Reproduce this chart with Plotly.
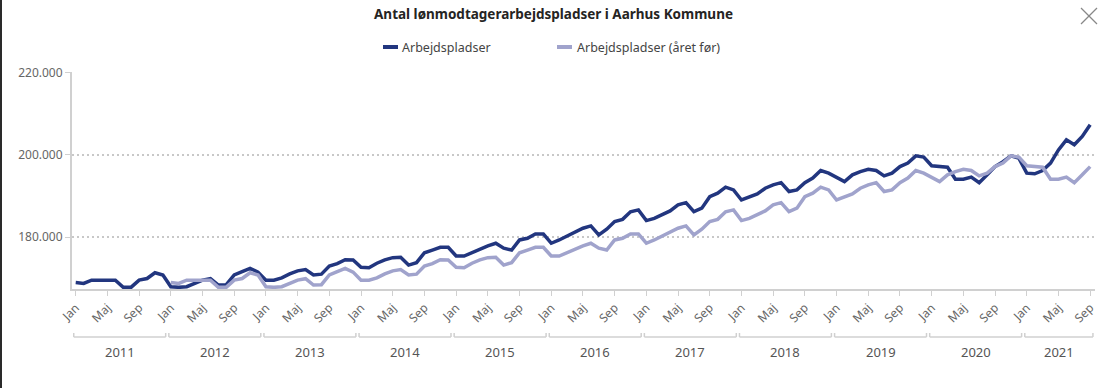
import plotly.graph_objects as go

# ---------------- data ----------------
years = [2011, 2012, 2013, 2014, 2015, 2016, 2017, 2018, 2019, 2020, 2021]
month_names = ["Jan", "Feb", "Mar", "Apr", "Maj", "Jun", "Jul", "Aug", "Sep", "Okt", "Nov", "Dec"]

arb_2011 = [169000, 168800, 169600, 169550, 169550, 169600, 167850, 167900, 169600, 170000, 171400, 170850]
arb_2012 = [168000, 167850, 168000, 168900, 169600, 169950, 168400, 168500, 170850, 171650, 172450, 171550]
arb_2013 = [169600, 169600, 170150, 171100, 171850, 172150, 170850, 171050, 173000, 173600, 174550, 174500]
arb_2014 = [172700, 172600, 173700, 174500, 175050, 175150, 173250, 173850, 176250, 176900, 177550, 177550]
arb_2015 = [175450, 175450, 176300, 177050, 177900, 178550, 177350, 176900, 179350, 179750, 180800, 180800]
arb_2016 = [178550, 179350, 180300, 181350, 182200, 182750, 180550, 181950, 183800, 184350, 186200, 186650]
arb_2017 = [184050, 184600, 185400, 186400, 187850, 188400, 186200, 187050, 189850, 190700, 192150, 191500]
arb_2018 = [189050, 189700, 190500, 191900, 192700, 193250, 191100, 191500, 193250, 194350, 196200, 195550]
arb_2019 = [194600, 193500, 195150, 195950, 196500, 196200, 194900, 195550, 197150, 198000, 199750, 199450]
arb_2020 = [197350, 197150, 197000, 194100, 194100, 194600, 193250, 195150, 197150, 198350, 199750, 199200]
arb_2021 = [195550, 195400, 196200, 198000, 201200, 203650, 202450, 204450, 207300]

# "Arbejdspladser (året før)" - as drawn (the previous year's level at each month)
prev_2011 = [None] * 12
prev_2012 = [169000, 168800, 169600, 169550, 169550, 169600, 167850, 167900, 169600, 170000, 171400, 170850]
prev_2013 = [168000, 167850, 168000, 168900, 169600, 169950, 168400, 168500, 170850, 171650, 172450, 171550]
prev_2014 = [169600, 169600, 170150, 171100, 171850, 172150, 170850, 171050, 173000, 173600, 174550, 174500]
prev_2015 = [172700, 172600, 173700, 174500, 175050, 175150, 173250, 173850, 176250, 176900, 177550, 177550]
prev_2016 = [175450, 175450, 176300, 177050, 177900, 178550, 177350, 176900, 179350, 179750, 180800, 180800]
prev_2017 = [178550, 179350, 180300, 181350, 182200, 182750, 180550, 181950, 183800, 184350, 186200, 186650]
prev_2018 = [184050, 184600, 185400, 186400, 187850, 188400, 186200, 187050, 189850, 190700, 192150, 191500]
prev_2019 = [189050, 189700, 190500, 191900, 192700, 193250, 191100, 191500, 193250, 194350, 196200, 195550]
prev_2020 = [194600, 193500, 195150, 195950, 196500, 196200, 194900, 195550, 197150, 198000, 199750, 199450]
prev_2021 = [197350, 197150, 197000, 194100, 194100, 194600, 193250, 195150, 197150]

arbejdspladser = (arb_2011 + arb_2012 + arb_2013 + arb_2014 + arb_2015 + arb_2016
                  + arb_2017 + arb_2018 + arb_2019 + arb_2020 + arb_2021)
aaret_foer = (prev_2011 + prev_2012 + prev_2013 + prev_2014 + prev_2015 + prev_2016
              + prev_2017 + prev_2018 + prev_2019 + prev_2020 + prev_2021)

y_ticks = [180000, 200000, 220000]

title_text = "Antal lønmodtagerarbejdspladser i Aarhus Kommune"
name_a = "Arbejdspladser"
name_b = "Arbejdspladser (året før)"

# ---------------- derived category positions ----------------
n = len(arbejdspladser)
x = list(range(n))
x_labels = [f"{month_names[i % 12]} {years[i // 12]}" for i in x]
tick_vals = [i for i in x if (i % 12) in (0, 4, 8)]
tick_text = [month_names[i % 12] for i in tick_vals]

# ---------------- style ----------------
FONT = "Segoe UI, Noto Sans, sans-serif"
DARK = "#22367f"
LIGHT = "#a0a3cc"
GRID = "#c8c8c8"
AXIS = "#d0d0d0"
TXT = "#666666"

# plot-area geometry (pixels), used to place page decorations
W, H = 1107, 388
ML, MR, MT, MB = 72, 12, 72, 99
PW, PH = W - ML - MR, H - MT - MB


def px(xp):
    return (xp - ML) / PW


def py(yp):
    return (H - MB - yp) / PH


fig = go.Figure()
fig.add_trace(go.Scatter(
    x=x, y=arbejdspladser, name=name_a, mode="lines",
    line=dict(color=DARK, width=3.5), customdata=x_labels,
    hovertemplate="%{customdata}: %{y}<extra></extra>"))
fig.add_trace(go.Scatter(
    x=x, y=aaret_foer, name=name_b, mode="lines",
    line=dict(color=LIGHT, width=3.5), customdata=x_labels,
    hovertemplate="%{customdata}: %{y}<extra></extra>"))

shapes = []
annotations = []

# year brackets below the month labels
for k, yr in enumerate(years):
    start = k * 12
    end = min(start + 11, n - 1)
    x0 = start - 0.25
    x1 = min(end + 0.35, n - 1 + 0.45)
    yb = py(337)
    yt = py(333)
    shapes.append(dict(type="line", xref="x", yref="paper", x0=x0, x1=x1, y0=yb, y1=yb,
                       line=dict(color=AXIS, width=1.5)))
    shapes.append(dict(type="line", xref="x", yref="paper", x0=x0, x1=x0, y0=yb, y1=yt,
                       line=dict(color=AXIS, width=1.5)))
    shapes.append(dict(type="line", xref="x", yref="paper", x0=x1, x1=x1, y0=yb, y1=yt,
                       line=dict(color=AXIS, width=1.5)))
    annotations.append(dict(text=str(yr), xref="x", yref="paper", x=(x0 + x1) / 2, y=py(352),
                            showarrow=False, xanchor="center", yanchor="middle",
                            font=dict(family=FONT, size=13, color="#555555")))

# custom legend (short line samples like the original)
legend_items = [(383, 398, 400, DARK, name_a), (557, 572, 575, LIGHT, name_b)]
for lx0, lx1, tx, col, nm in legend_items:
    shapes.append(dict(type="line", xref="paper", yref="paper", x0=px(lx0), x1=px(lx1),
                       y0=py(47), y1=py(47), line=dict(color=col, width=4)))
    annotations.append(dict(text=nm, xref="paper", yref="paper", x=px(tx), y=py(47.5),
                            showarrow=False, xanchor="left", yanchor="middle",
                            font=dict(family=FONT, size=12.5, color="#444444")))

# close icon (top right) and left frame edge
shapes.append(dict(type="line", xref="paper", yref="paper", x0=px(1081), x1=px(1097),
                   y0=py(8), y1=py(24), line=dict(color="#888888", width=1.2)))
shapes.append(dict(type="line", xref="paper", yref="paper", x0=px(1081), x1=px(1097),
                   y0=py(24), y1=py(8), line=dict(color="#888888", width=1.2)))
shapes.append(dict(type="rect", xref="paper", yref="paper", x0=px(0), x1=px(2),
                   y0=py(0), y1=py(H), line=dict(width=0), fillcolor="#2a2a2a"))

fig.update_layout(
    width=W, height=H,
    margin=dict(l=ML, r=MR, t=MT, b=MB, pad=0, autoexpand=False),
    paper_bgcolor="white", plot_bgcolor="white",
    separators=",.",
    showlegend=False,
    title=dict(text="<b>" + title_text + "</b>", x=0.5, xanchor="center",
               y=1 - 14 / H, yanchor="middle", yref="container",
               font=dict(family=FONT, size=13.5, color="#252423")),
    xaxis=dict(range=[-0.47, 128.61], showgrid=False, zeroline=False, automargin=False,
               showline=True, linecolor=AXIS, linewidth=2,
               tickmode="array", tickvals=tick_vals, ticktext=tick_text,
               ticks="outside", ticklen=5, tickcolor=AXIS, tickwidth=1,
               tickangle=-45, tickfont=dict(family=FONT, size=12, color=TXT)),
    yaxis=dict(range=[167450, 220100], tickmode="array", tickvals=y_ticks, automargin=False,
               tickformat=",d", showgrid=True, gridcolor=GRID, gridwidth=1.5,
               griddash="2px,3px", zeroline=False,
               showline=True, linecolor=AXIS, linewidth=2,
               ticks="outside", ticklen=5, tickcolor=AXIS,
               tickfont=dict(family=FONT, size=12, color=TXT)),
    shapes=shapes,
    annotations=annotations,
)

# the page's default 8px body margin would offset the figure; remove it
fig.write_html("out.html", config={"displayModeBar": False},
               post_script="document.body.style.margin='0';document.body.style.overflow='hidden';")
